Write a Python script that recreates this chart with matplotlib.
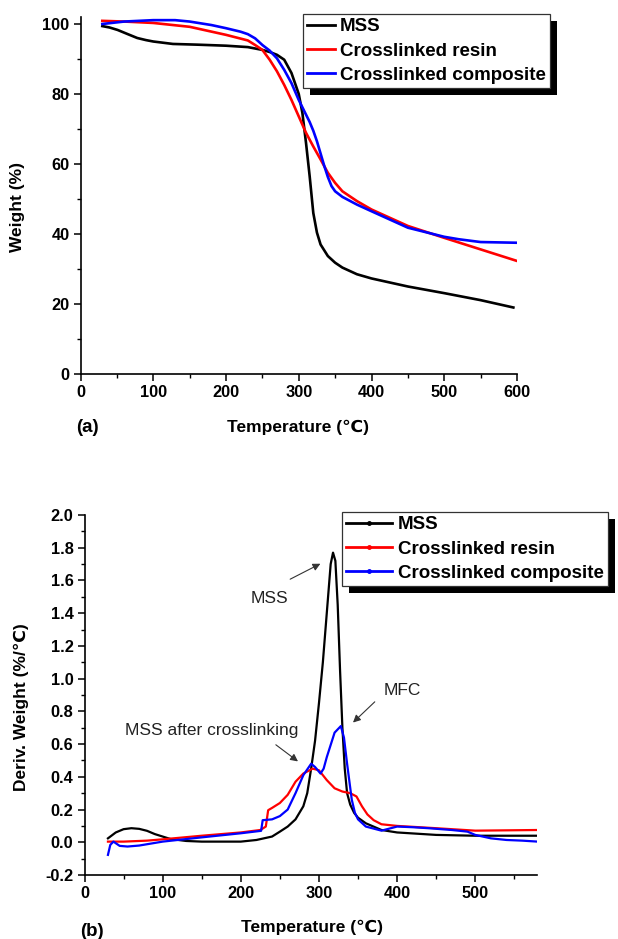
import matplotlib
matplotlib.use("Agg")
import matplotlib.pyplot as plt
from matplotlib.patches import Rectangle
from matplotlib.lines import Line2D
from matplotlib.transforms import IdentityTransform
from matplotlib.ticker import MultipleLocator, FormatStrFormatter

plt.rcParams['font.family'] = ['Liberation Sans', 'DejaVu Sans']

# ---------------- Data: (a) TGA ----------------
mss_t = [30, 40, 51, 65, 78, 90, 100, 127, 160, 200, 230, 250, 260, 270, 280, 290, 300, 305, 310, 315, 320, 325, 330, 340, 350, 360, 380, 400, 450, 500, 550, 595]
mss_w = [99.4, 99.0, 98.3, 97.1, 96.0, 95.4, 95.0, 94.3, 94.1, 93.8, 93.4, 92.6, 92.0, 91.2, 89.8, 86.0, 80.0, 74.6, 66.0, 56.5, 46.0, 40.4, 37.0, 33.7, 31.8, 30.4, 28.5, 27.3, 25.0, 23.1, 21.1, 19.0]

res_t = [30, 60, 100, 150, 200, 230, 240, 250, 260, 270, 280, 290, 300, 310, 320, 330, 340, 350, 360, 380, 400, 450, 500, 550, 600]
res_w = [100.9, 100.7, 100.3, 99.2, 96.9, 95.3, 94.0, 92.6, 89.8, 86.5, 82.6, 78.3, 73.6, 68.9, 65.0, 61.3, 57.5, 54.6, 52.2, 49.4, 47.0, 42.3, 38.9, 35.6, 32.3]

com_t = [30, 60, 100, 130, 150, 180, 200, 220, 230, 240, 250, 260, 270, 280, 290, 300, 310, 315, 320, 325, 330, 335, 340, 345, 350, 360, 380, 400, 450, 500, 520, 550, 600]
com_w = [100.0, 100.7, 101.1, 101.1, 100.7, 99.7, 98.8, 97.8, 97.1, 95.9, 94.0, 92.4, 90.2, 86.9, 83.1, 78.3, 74.1, 72.0, 69.5, 66.5, 63.0, 59.5, 56.3, 53.7, 52.2, 50.6, 48.4, 46.5, 41.8, 39.2, 38.5, 37.7, 37.5]

# ---------------- Data: (b) DTG ----------------
mss_dt = [30, 40, 50, 60, 70, 80, 90, 100, 110, 130, 150, 200, 220, 240, 250, 260, 270, 280, 285, 290, 295, 300, 305, 310, 315, 318, 321, 324, 327, 330, 333, 336, 340, 345, 350, 360, 380, 400, 450, 500, 580]
mss_d = [0.024, 0.06, 0.08, 0.086, 0.082, 0.07, 0.05, 0.035, 0.02, 0.008, 0.004, 0.004, 0.014, 0.035, 0.065, 0.096, 0.14, 0.22, 0.30, 0.45, 0.62, 0.85, 1.10, 1.40, 1.70, 1.77, 1.72, 1.45, 1.05, 0.70, 0.45, 0.30, 0.23, 0.18, 0.15, 0.116, 0.075, 0.06, 0.045, 0.04, 0.04]

res_dt = [30, 50, 80, 100, 150, 200, 225, 232, 235, 240, 250, 260, 270, 280, 292, 300, 310, 320, 330, 340, 348, 355, 362, 370, 380, 400, 450, 500, 580]
res_d = [0.004, 0.004, 0.01, 0.018, 0.04, 0.06, 0.075, 0.096, 0.196, 0.21, 0.24, 0.29, 0.37, 0.42, 0.45, 0.44, 0.38, 0.33, 0.31, 0.30, 0.28, 0.22, 0.17, 0.135, 0.11, 0.10, 0.086, 0.071, 0.075]

com_dt = [30, 33, 37, 45, 55, 70, 100, 150, 200, 226, 228, 240, 250, 260, 270, 280, 290, 295, 302, 306, 310, 320, 328, 332, 336, 342, 346, 350, 360, 380, 400, 420, 440, 470, 490, 500, 520, 540, 560, 580]
com_d = [-0.077, -0.016, 0.004, -0.022, -0.026, -0.02, 0.004, 0.03, 0.055, 0.07, 0.135, 0.14, 0.16, 0.20, 0.30, 0.41, 0.48, 0.46, 0.42, 0.45, 0.52, 0.67, 0.71, 0.64, 0.48, 0.26, 0.18, 0.14, 0.096, 0.071, 0.096, 0.092, 0.086, 0.075, 0.065, 0.045, 0.024, 0.014, 0.01, 0.004]

labels = ['MSS', 'Crosslinked resin', 'Crosslinked composite']
colors = ['black', '#ff0000', '#0000ff']

W, H = 618, 939
fig = plt.figure(figsize=(W / 100, H / 100), dpi=100)

def px_axes(l, r, top, bot):
    return [l / W, 1 - bot / H, (r - l) / W, (bot - top) / H]

def style(ax):
    for s in ['top', 'right']:
        ax.spines[s].set_visible(False)
    for s in ['left', 'bottom']:
        ax.spines[s].set_linewidth(1.2)
    ax.tick_params(which='major', direction='out', length=5, width=1.1, pad=3)
    ax.tick_params(which='minor', direction='out', length=3, width=1.0)
    for t in ax.get_xticklabels() + ax.get_yticklabels():
        t.set_fontweight('bold')
        t.set_fontsize(11.8)

# ---------- (a) ----------
ax1 = fig.add_axes(px_axes(80.5, 517, 17, 374))
ax1.plot(mss_t, mss_w, color=colors[0], lw=1.9)
ax1.plot(res_t, res_w, color=colors[1], lw=1.9)
ax1.plot(com_t, com_w, color=colors[2], lw=1.9)
ax1.set_xlim(0, 600)
ax1.set_ylim(0, 102)
ax1.xaxis.set_major_locator(MultipleLocator(100))
ax1.xaxis.set_minor_locator(MultipleLocator(50))
ax1.yaxis.set_major_locator(MultipleLocator(20))
ax1.yaxis.set_minor_locator(MultipleLocator(10))
style(ax1)

# ---------- (b) ----------
ax2 = fig.add_axes(px_axes(84.5, 537, 515, 875))
ax2.plot(mss_dt, mss_d, color=colors[0], lw=1.6)
ax2.plot(res_dt, res_d, color=colors[1], lw=1.6)
ax2.plot(com_dt, com_d, color=colors[2], lw=1.6)
ax2.set_xlim(0, 579)
ax2.set_ylim(-0.2, 2.0)
ax2.xaxis.set_major_locator(MultipleLocator(100))
ax2.xaxis.set_minor_locator(MultipleLocator(50))
ax2.yaxis.set_major_locator(MultipleLocator(0.2))
ax2.yaxis.set_minor_locator(MultipleLocator(0.1))
ax2.yaxis.set_major_formatter(FormatStrFormatter('%.1f'))
style(ax2)

# annotations
arrow = dict(arrowstyle='-|>', color='#333333', lw=0.8, mutation_scale=11)
txt_kw = dict(fontsize=12.5, color='#222222')
ax2.text(236, 1.49, 'MSS', ha='center', va='center', **txt_kw)
ax2.annotate('', xy=(305, 1.71), xytext=(260, 1.60), arrowprops=arrow)
ax2.text(407, 0.926, 'MFC', ha='center', va='center', **txt_kw)
ax2.annotate('', xy=(341, 0.72), xytext=(374, 0.87), arrowprops=arrow)
ax2.text(52, 0.686, 'MSS after crosslinking', ha='left', va='center', **txt_kw)
ax2.annotate('', xy=(276, 0.484), xytext=(242, 0.606), arrowprops=arrow)

# labels
lab_kw = dict(fontsize=12.5, fontweight='bold')
fig.text(298 / W, 1 - 427 / H, 'Temperature (℃)', ha='center', va='center', **lab_kw)
fig.text(18 / W, 1 - 207 / H, 'Weight (%)', ha='center', va='center', rotation=90, **lab_kw)
fig.text(76 / W, 1 - 428 / H, '(a)', ha='left', va='center', fontsize=13.5, fontweight='bold')
fig.text(312 / W, 1 - 927 / H, 'Temperature (℃)', ha='center', va='center', **lab_kw)
fig.text(21 / W, 1 - 707 / H, 'Deriv. Weight (%/℃)', ha='center', va='center', rotation=90, **lab_kw)
fig.text(80 / W, 1 - 931 / H, '(b)', ha='left', va='center', fontsize=13.5, fontweight='bold')

# legends
def make_legend(ax, x0, y0, hl, htp, lw, marker):
    handles = [Line2D([], [], color=c, lw=lw, marker=marker, markersize=2.5) for c in colors]
    leg = ax.legend(handles, labels, loc='upper left', bbox_to_anchor=(x0 / W, 1 - y0 / H),
                    bbox_transform=fig.transFigure, borderaxespad=0, numpoints=1,
                    prop=dict(weight='bold', size=13.5), handlelength=hl,
                    handletextpad=htp, labelspacing=0.38, borderpad=0.22,
                    fancybox=False, framealpha=1, edgecolor='#333333')
    leg.get_frame().set_linewidth(0.9)
    leg.set_zorder(6)
    return leg

leg1 = make_legend(ax1, 303, 14, 1.5, 0.25, 2.0, None)
leg2 = make_legend(ax2, 342, 512, 2.45, 0.3, 2.0, 'o')

fig.canvas.draw()
for ax, leg in [(ax1, leg1), (ax2, leg2)]:
    bb = leg.get_window_extent()
    r = Rectangle((bb.x0 + 7, bb.y0 - 7), bb.width, bb.height, transform=IdentityTransform(),
                  facecolor='black', edgecolor='none', zorder=5.5, clip_on=False)
    ax.add_patch(r)

fig.savefig('out.png', dpi=100)
